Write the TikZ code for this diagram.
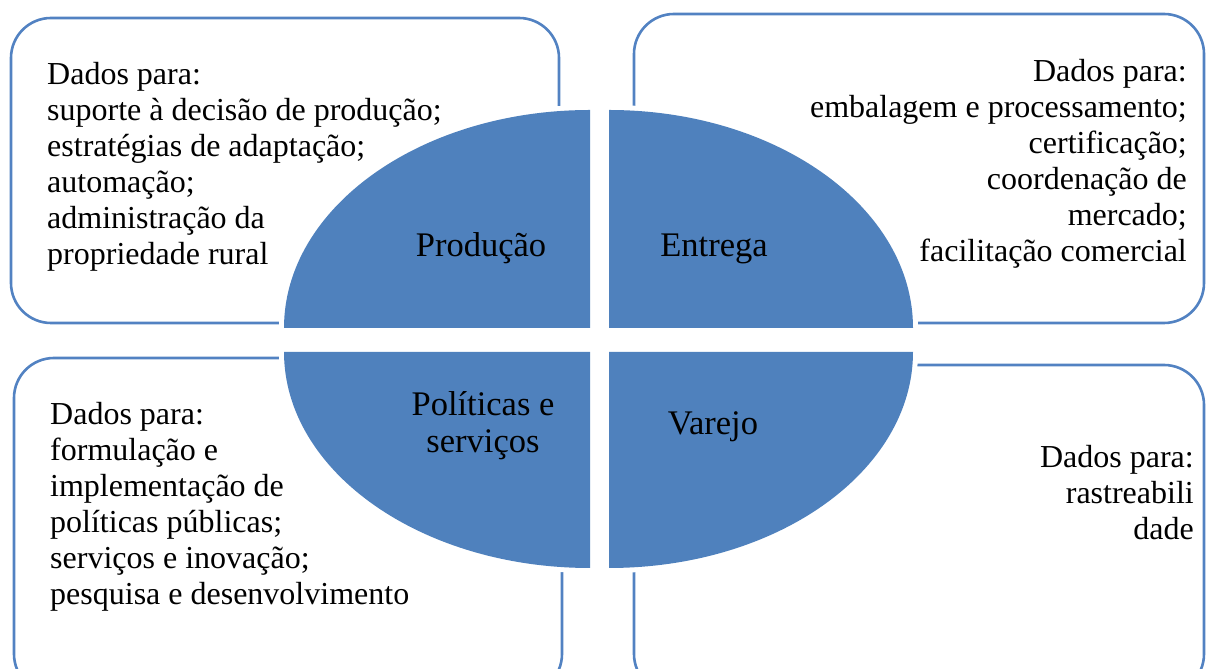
\documentclass[tikz,border=0pt]{standalone}
\usepackage{fontspec}
\setmainfont{Liberation Serif}
\definecolor{qblue}{HTML}{4F81BD}
\definecolor{boxblue}{HTML}{5282C2}
\begin{document}
\begin{tikzpicture}[x=1bp,y=1bp,
  boxframe/.style={draw=boxblue, line width=2.6bp, rounded corners=40bp},
  quad/.style={fill=qblue, preaction={draw=white, line width=10bp}},
  body/.style={inner sep=0pt, font=\fontsize{32bp}{36bp}\selectfont},
  lab/.style={inner sep=0pt, font=\fontsize{34.5bp}{37bp}\selectfont}]
\useasboundingbox (0,0) rectangle (1207,669);
\clip (0,0) rectangle (1207,669);
% frames
\draw[boxframe] (11,346) rectangle (559,651);
\draw[boxframe] (634,346) rectangle (1204,655);
\draw[boxframe] (14,-25) rectangle (562,311);
\draw[boxframe] (634,-25) rectangle (1204,304);
% quadrants
\path[quad] (590,341) -- (284,341) arc[start angle=180, end angle=90, x radius=306, y radius=218] -- cycle;
\path[quad] (609,341) -- (913,341) arc[start angle=0, end angle=90, x radius=304, y radius=218] -- cycle;
\path[quad] (590,317) -- (284,317) arc[start angle=180, end angle=270, x radius=306, y radius=216] -- cycle;
\path[quad] (609,317) -- (913,317) arc[start angle=0, end angle=-90, x radius=304, y radius=216] -- cycle;
% labels
\node[lab, anchor=base] (prod) at (481,412) {Produção};
\node[lab, anchor=base] (entr) at (714,412) {Entrega};
\node[lab, anchor=base] (poli) at (483,253) {\begin{tabular}[t]{@{}c@{}}Políticas e\\serviços\end{tabular}};
\node[lab, anchor=base] (vare) at (713,234) {Varejo};
% texts
\node[body, anchor=base west] (tprod) at (47,584) {\begin{tabular}[t]{@{}l@{}}Dados para:\\suporte à decisão de produção;\\estratégias de adaptação;\\automação;\\administração da\\propriedade rural\end{tabular}};
\node[body, anchor=base east] (tentr) at (1187,587) {\begin{tabular}[t]{@{}r@{}}Dados para:\\embalagem e processamento;\\certificação;\\coordenação de\\mercado;\\facilitação comercial\end{tabular}};
\node[body, anchor=base west] (tpoli) at (50,244) {\begin{tabular}[t]{@{}l@{}}Dados para:\\formulação e\\implementação de\\políticas públicas;\\serviços e inovação;\\pesquisa e desenvolvimento\end{tabular}};
\node[body, anchor=base east] (tvare) at (1194,201) {\begin{tabular}[t]{@{}r@{}}Dados para:\\rastreabili\\dade\end{tabular}};
\end{tikzpicture}
\end{document}
